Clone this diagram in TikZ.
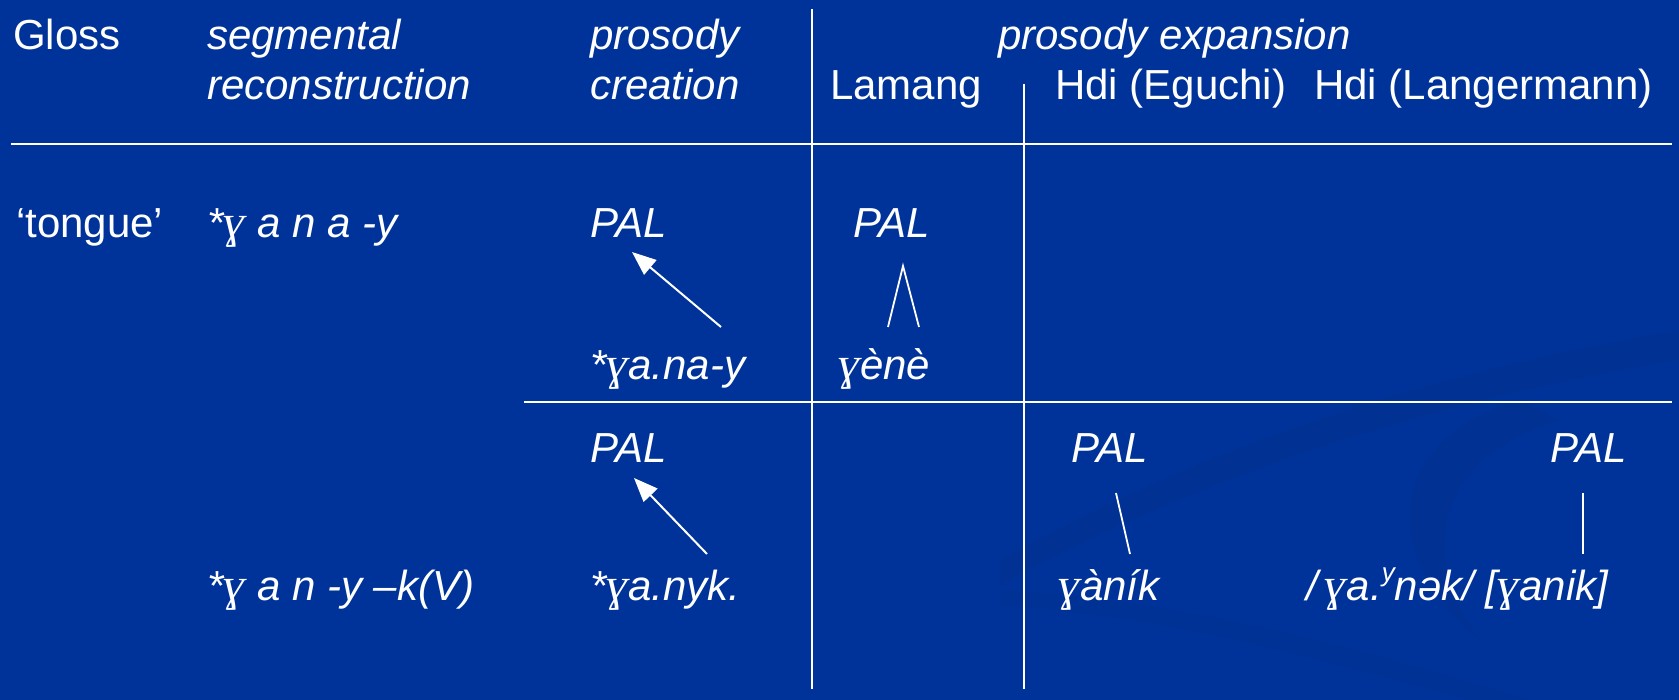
\documentclass[tikz,border=0pt]{standalone}
\usepackage{fontspec}
\setmainfont{Liberation Sans}
\newfontfamily\ipaserif{Liberation Serif}
\usetikzlibrary{arrows.meta}
\definecolor{bg}{RGB}{0,51,153}
\newcommand{\gm}{{\ipaserif\itshape\fontsize{46}{48}\selectfont ɣ}}
\begin{document}
\begin{tikzpicture}[x=1pt,y=-1pt,
  lbl/.style={inner sep=0pt,anchor=base west,text=white,font=\fontsize{42}{48}\selectfont},
  it/.style={lbl,font=\fontsize{42}{48}\selectfont\itshape},
  rule/.style={draw=white,line width=2pt},
  arr/.style={draw=white,line width=2pt,-{Triangle[length=24pt,width=19pt]}},
  tie/.style={draw=white,line width=1.8pt}]
\fill[bg] (0,0) rectangle (1679,700);
\useasboundingbox (0,0) rectangle (1679,700);
% faint background swooshes
\fill[black,opacity=0.035] (1000,560) .. controls (1250,420) and (1500,360) .. (1679,330) -- (1679,360) .. controls (1500,390) and (1250,450) .. (1000,585) -- cycle;
\fill[black,opacity=0.035] (1520,400) .. controls (1380,440) and (1380,560) .. (1480,640) .. controls (1420,560) and (1430,460) .. (1560,420) -- cycle;
\fill[black,opacity=0.03] (1000,590) .. controls (1200,600) and (1400,660) .. (1530,700) -- (1470,700) .. controls (1350,670) and (1200,620) .. (1000,605) -- cycle;
% rules
\coordinate (h1a) at (11,144); \coordinate (h1b) at (1672,144);
\coordinate (h2a) at (524,402); \coordinate (h2b) at (1672,402);
\coordinate (v1a) at (812,9);  \coordinate (v1b) at (812,689);
\coordinate (v2a) at (1024,84); \coordinate (v2b) at (1024,689);
\draw[rule] (h1a) -- (h1b);
\draw[rule] (h2a) -- (h2b);
\draw[rule] (v1a) -- (v1b);
\draw[rule] (v2a) -- (v2b);
% header
\node[lbl] (gloss) at (13,50) {Gloss};
\node[it] (seg1) at (207,50) {segmental};
\node[it] (seg2) at (207,100) {reconstruction};
\node[it] (pc1) at (590,50) {prosody};
\node[it] (pc2) at (590,100) {creation};
\node[it] (pe) at (998,50) {prosody expansion};
\node[lbl] (lam) at (830,100) {Lamang};
\node[lbl] (egu) at (1055,100) {Hdi (Eguchi)};
\node[lbl] (lan) at (1314,100) {Hdi (Langermann)};
% row 1
\node[lbl] (tongue) at (16,238) {‘tongue’};
\node[it] (segA) at (207,238) {*\gm{} a n a -y};
\node[it] (palA) at (590,238) {PAL};
\node[it] (palL) at (853,238) {PAL};
\node[it] (formA) at (590,380) {*\gm a.na-y};
\node[it] (lamF) at (838,380) {\gm ènè};
% row 2
\node[it] (palB) at (590,462) {PAL};
\node[it] (palE) at (1071,462) {PAL};
\node[it] (palH) at (1550,462) {PAL};
\node[it] (segB) at (207,600) {*\gm{} a n -y –k(V)};
\node[it] (formB) at (590,600) {*\gm a.nyk.};
\node[it] (egF) at (1058,600) {\gm àník};
\node[it] (lanF) at (1306,600) {/\,\gm a.\raisebox{0.45em}{\fontsize{26}{30}\selectfont y}nək/ [\gm anik]};
% connectors
\coordinate (a1t) at (721,327); \coordinate (a1h) at (632,252);
\draw[arr] (a1t) -- (a1h);
\coordinate (a2t) at (707,554); \coordinate (a2h) at (634,478);
\draw[arr] (a2t) -- (a2h);
\coordinate (lapx) at (903,266); \coordinate (lfl) at (888,327); \coordinate (lfr) at (919,327);
\draw[tie] (lfl) -- (lapx) -- (lfr);
\coordinate (et) at (1116,493); \coordinate (eb) at (1130,554);
\draw[tie] (et) -- (eb);
\coordinate (ht) at (1583,493); \coordinate (hb) at (1583,554);
\draw[tie] (ht) -- (hb);
\end{tikzpicture}
\end{document}
